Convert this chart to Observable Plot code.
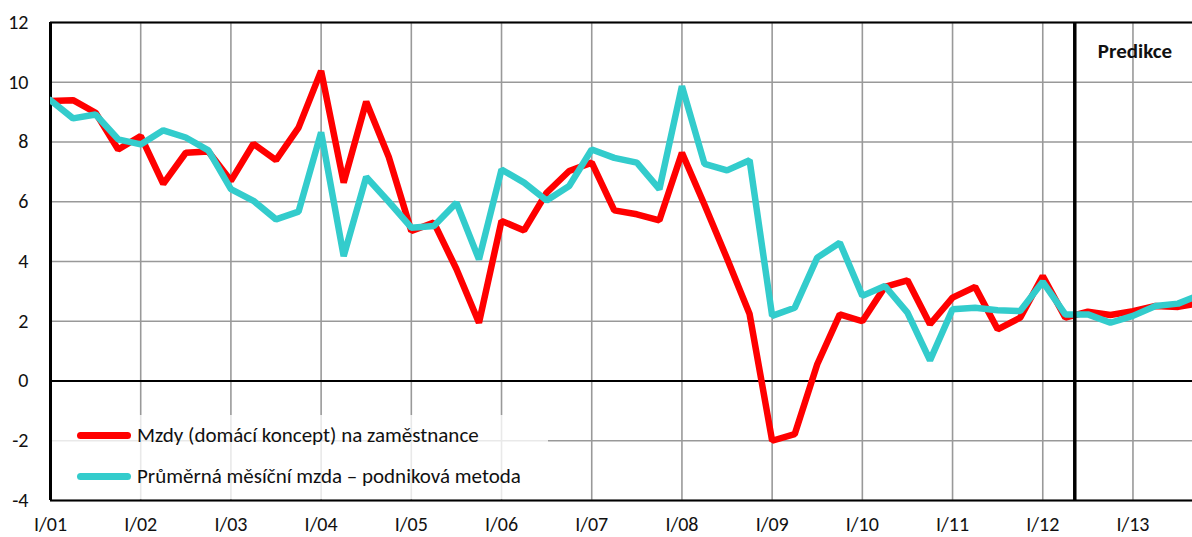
<!DOCTYPE html>
<html>
<head>
<meta charset="utf-8">
<script src="https://cdn.jsdelivr.net/npm/d3@7"></script>
<script src="https://cdn.jsdelivr.net/npm/@observablehq/plot@0.6"></script>
<style>
  html, body { margin: 0; padding: 0; background: #fff; }
  #wrap { position: relative; width: 1192px; height: 537px; overflow: hidden; font-family: Carlito, Lato, sans-serif; }
  #legend { position: absolute; left: 52px; top: 415px; width: 496px; height: 84px; background: rgba(255,255,255,0.78); }
  .item { position: absolute; left: 25px; display: flex; align-items: center; font-size: 21px; color: #111; white-space: nowrap; }
  .sw { width: 54px; height: 7px; border-radius: 4px; margin-right: 6px; }
</style>
</head>
<body>
<div id="wrap"></div>
<script>
// Quarter index 0 = I/01 ... 51 = IV/13
const yearLabels = ["I/01","I/02","I/03","I/04","I/05","I/06","I/07","I/08","I/09","I/10","I/11","I/12","I/13"];
const yTicks = [-4,-2,0,2,4,6,8,10,12];
const seriesNames = ["Mzdy (domácí koncept) na zaměstnance", "Průměrná měsíční mzda – podniková metoda"];
const seriesColors = ["#ff0000", "#33cccc"];
const predictionStart = 45.42;
const predictionLabel = "Predikce";

const mzdy = [9.37, 9.4, 8.98, 7.75, 8.2, 6.6, 7.64, 7.68,
              6.7, 7.94, 7.39, 8.48, 10.38, 6.64, 9.35, 7.5,
              5.02, 5.3, 3.75, 1.95, 5.36, 5.04, 6.3, 7.03,
              7.31, 5.71, 5.58, 5.38, 7.64, 5.9, 4.1, 2.24,
              -2.0, -1.78, 0.56, 2.23, 2.0, 3.15, 3.37, 1.9,
              2.79, 3.15, 1.73, 2.12, 3.51, 2.12, 2.32, 2.21,
              2.34, 2.51, 2.48, 2.62];
const prumerna = [9.4, 8.79, 8.92, 8.09, 7.92, 8.39, 8.15, 7.72,
                  6.42, 6.03, 5.41, 5.67, 8.32, 4.18, 6.83, 6.0,
                  5.13, 5.19, 5.97, 4.07, 7.08, 6.64, 6.04, 6.53,
                  7.75, 7.47, 7.31, 6.42, 9.87, 7.27, 7.05, 7.39,
                  2.18, 2.45, 4.13, 4.63, 2.85, 3.18, 2.29, 0.69,
                  2.4, 2.45, 2.37, 2.34, 3.32, 2.23, 2.23, 1.95,
                  2.18, 2.51, 2.59, 2.9];

const yearTicks = yearLabels.map((_, i) => i * 4);
const rowsA = mzdy.map((v, i) => ({q: i, v}));
const rowsB = prumerna.map((v, i) => ({q: i, v}));

const chart = Plot.plot({
  width: 1192,
  height: 537,
  marginLeft: 50,
  marginRight: 0,
  marginTop: 22,
  marginBottom: 37,
  style: {fontFamily: "Carlito, Lato, sans-serif", fontSize: "20px", color: "#111", background: "#fff"},
  x: {domain: [0, 50.64], axis: null, label: null},
  y: {domain: [-4, 12], axis: null, label: null},
  marks: [
    Plot.gridX(yearTicks, {stroke: "#999", strokeOpacity: 1, strokeWidth: 1.6}),
    Plot.gridY(yTicks, {stroke: "#999", strokeOpacity: 1, strokeWidth: 1.6}),
    Plot.ruleY([0], {stroke: "#000", strokeWidth: 2.2}),
    Plot.ruleY([12], {stroke: "#000", strokeWidth: 1.8}),
    Plot.ruleY([-4], {stroke: "#000", strokeWidth: 2.2}),
    Plot.ruleX([0], {stroke: "#000", strokeWidth: 3}),
    Plot.lineY(rowsA, {x: "q", y: "v", stroke: seriesColors[0], strokeWidth: 6.5, strokeLinejoin: "miter", clip: true}),
    Plot.lineY(rowsB, {x: "q", y: "v", stroke: seriesColors[1], strokeWidth: 6.5, strokeLinejoin: "miter", clip: true}),
    Plot.ruleX([predictionStart], {stroke: "#000", strokeWidth: 3.5}),
    Plot.text([predictionLabel], {x: predictionStart, frameAnchor: "top", textAnchor: "start", dx: 23, dy: 21, fontWeight: "bold", fontSize: 21, fill: "#111"}),
    Plot.axisX({ticks: yearTicks, tickFormat: i => yearLabels[i / 4], tickSize: 0, tickPadding: 16, fontSize: 20, label: null}),
    Plot.axisY({ticks: yTicks, tickSize: 0, tickPadding: 22, fontSize: 20, label: null, tickFormat: d => d < 0 ? "-" + Math.abs(d) : String(d)})
  ]
});

const wrap = document.getElementById("wrap");
wrap.appendChild(chart);

const legend = document.createElement("div");
legend.id = "legend";
seriesNames.forEach((name, k) => {
  const it = document.createElement("div");
  it.className = "item";
  it.style.top = (k === 0 ? 7 : 48) + "px";
  const sw = document.createElement("div");
  sw.className = "sw";
  sw.style.background = seriesColors[k];
  const tx = document.createElement("span");
  tx.textContent = name;
  it.appendChild(sw);
  it.appendChild(tx);
  legend.appendChild(it);
});
wrap.appendChild(legend);
</script>
</body>
</html>
